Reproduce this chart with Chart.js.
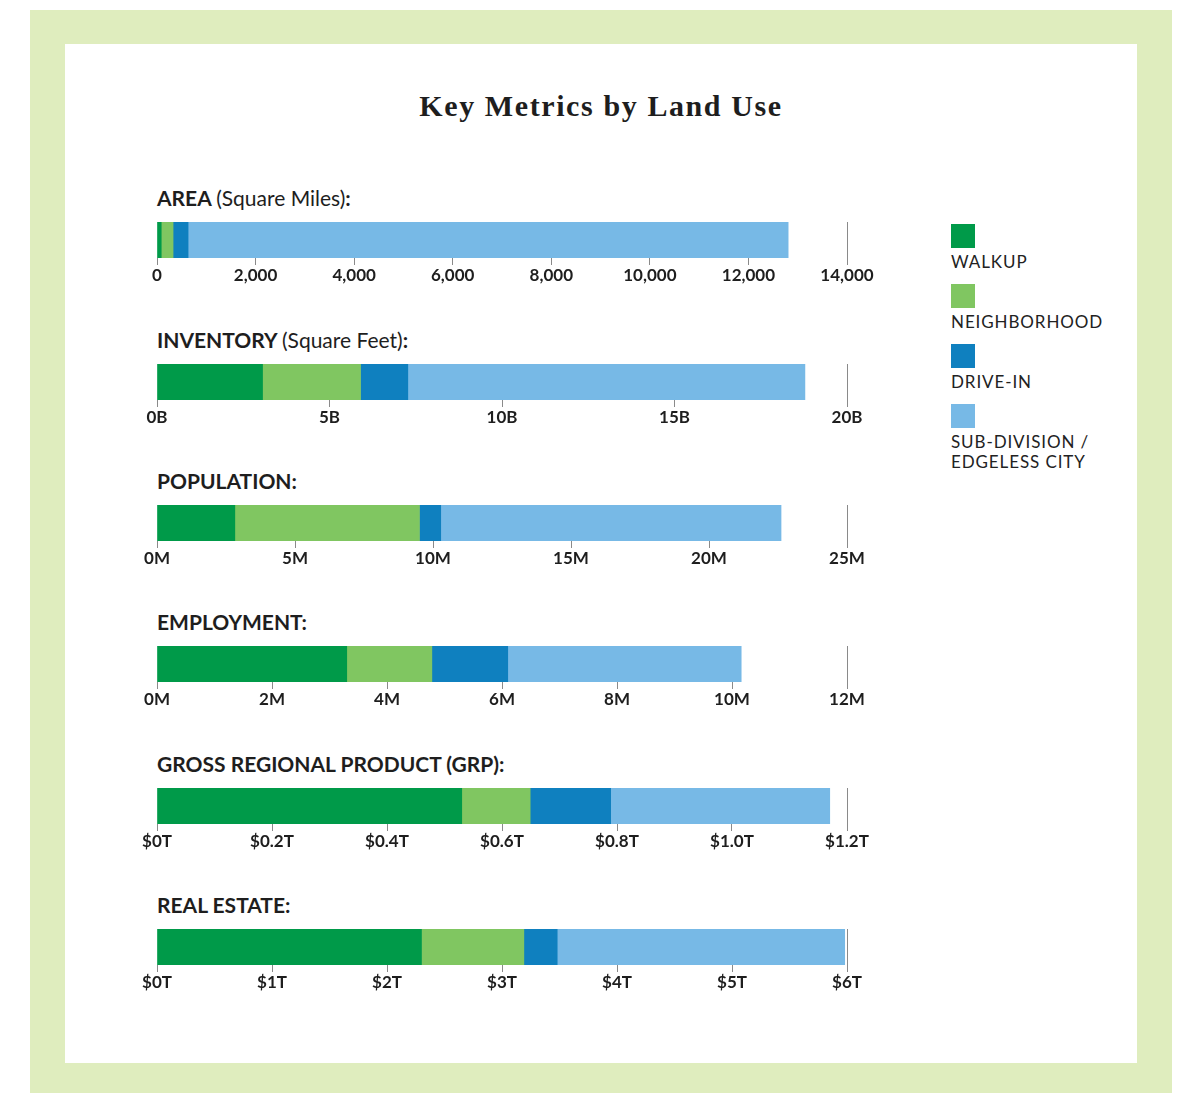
<!DOCTYPE html>
<html>
<head>
<meta charset="utf-8">
<script src="https://cdn.jsdelivr.net/npm/chart.js@4.4.1/dist/chart.umd.min.js"></script>
<style>
  body { margin: 0; width: 1180px; height: 1093px; background: #fff; position: relative; overflow: hidden; font-family: Lato, "Open Sans", sans-serif; color: #1e1e1e; }
  #frame { position: absolute; left: 30px; top: 10px; width: 1142px; height: 1083px; background: #dfedbe; }
  #sheet { position: absolute; left: 65px; top: 44px; width: 1072px; height: 1019px; background: #fff; }
  #title { position: absolute; left: 65px; width: 1072px; top: 89px; text-align: center; font-family: "Liberation Serif", "DejaVu Serif", serif; font-size: 30px; font-weight: bold; letter-spacing: 1.6px; }
  .heading { position: absolute; left: 157px; height: 24px; line-height: 24px; font-size: 21px; font-weight: bold; letter-spacing: 0; white-space: nowrap; }
  .heading span { font-weight: normal; }
  canvas { position: absolute; left: 130px; }
  .swatch { position: absolute; left: 951px; width: 24px; height: 24px; }
  .legtext { position: absolute; left: 951px; font-size: 17px; line-height: 20px; letter-spacing: 0.9px; color: #222; }
</style>
</head>
<body>
<div id="frame"></div>
<div id="sheet"></div>
<div id="title">Key Metrics by Land Use</div>
<div id="panels"></div>
<div id="legend"></div>
<script>
// Valeurs (unités de chaque panneau)
const panels     = ["AREA", "INVENTORY", "POPULATION", "EMPLOYMENT", "GROSS REGIONAL PRODUCT (GRP)", "REAL ESTATE"];
const panelNotes = ["(Square Miles)", "(Square Feet)", "", "", "", ""];
const seriesNames  = ["WALKUP", "NEIGHBORHOOD", "DRIVE-IN", "SUB-DIVISION / EDGELESS CITY"];
const seriesColors = ["#009a49", "#80c661", "#0f80bf", "#77b9e6"];

const walkup       = [86,    3.06,  2.82,  3.30, 0.530, 2.30];
const neighborhood = [240,   2.84,  6.69,  1.48, 0.119, 0.89];
const driveIn      = [305,   1.37,  0.77,  1.32, 0.140, 0.29];
const subdivision  = [12175, 11.51, 12.33, 4.06, 0.381, 2.50];

const axisMax  = [14000, 20, 25, 12, 1.2, 6];
const axisStep = [2000, 5, 5, 2, 0.2, 1];
const tickLabels = [
  ["0", "2,000", "4,000", "6,000", "8,000", "10,000", "12,000", "14,000"],
  ["0B", "5B", "10B", "15B", "20B"],
  ["0M", "5M", "10M", "15M", "20M", "25M"],
  ["0M", "2M", "4M", "6M", "8M", "10M", "12M"],
  ["$0T", "$0.2T", "$0.4T", "$0.6T", "$0.8T", "$1.0T", "$1.2T"],
  ["$0T", "$1T", "$2T", "$3T", "$4T", "$5T", "$6T"]
];

const barTops = [222, 364, 505, 646, 788, 929];
const series = [walkup, neighborhood, driveIn, subdivision];

const panelsDiv = document.getElementById("panels");

panels.forEach((name, p) => {
  // titre du panneau
  const h = document.createElement("div");
  h.className = "heading";
  h.style.top = (barTops[p] - 36) + "px";
  h.innerHTML = name + (panelNotes[p] ? " <span>" + panelNotes[p] + "</span>" : "") + ":";
  panelsDiv.appendChild(h);

  const canvas = document.createElement("canvas");
  canvas.width = 760;
  canvas.height = 66;
  canvas.style.top = barTops[p] + "px";
  panelsDiv.appendChild(canvas);

  const lastTick = tickLabels[p].length - 1;

  new Chart(canvas, {
    type: "bar",
    data: {
      labels: [name],
      datasets: series.map((vals, s) => ({
        label: seriesNames[s],
        data: [vals[p]],
        backgroundColor: seriesColors[s],
        borderWidth: 0,
        barPercentage: 1,
        categoryPercentage: 1
      }))
    },
    options: {
      indexAxis: "y",
      responsive: false,
      animation: false,
      layout: { padding: { left: 27, right: 43, top: 0, bottom: 0 } },
      plugins: { legend: { display: false }, tooltip: { enabled: false } },
      scales: {
        y: { stacked: true, display: false },
        x: {
          stacked: true,
          min: 0,
          max: axisMax[p],
          afterFit: axis => { axis.height = 30; },
          border: { display: false },
          grid: {
            drawTicks: true,
            tickLength: 7,
            lineWidth: 1,
            color: ctx => ctx.index === lastTick ? "#8a8a8a" : "rgba(0,0,0,0)",
            tickColor: "#8a8a8a"
          },
          ticks: {
            stepSize: axisStep[p],
            autoSkip: false,
            maxRotation: 0,
            padding: 0,
            color: "#1e1e1e",
            font: { family: "Lato", size: 17, weight: "bold" },
            callback: (value, index) => tickLabels[p][index] ?? ""
          }
        }
      }
    }
  });
});

// Légende
const legend = document.getElementById("legend");
seriesNames.forEach((name, s) => {
  const top = 224 + s * 60;
  const sw = document.createElement("div");
  sw.className = "swatch";
  sw.style.top = top + "px";
  sw.style.background = seriesColors[s];
  legend.appendChild(sw);
  const t = document.createElement("div");
  t.className = "legtext";
  t.style.top = (top + 28) + "px";
  t.innerHTML = name.replace(" / ", " /<br>");
  legend.appendChild(t);
});
</script>
</body>
</html>
